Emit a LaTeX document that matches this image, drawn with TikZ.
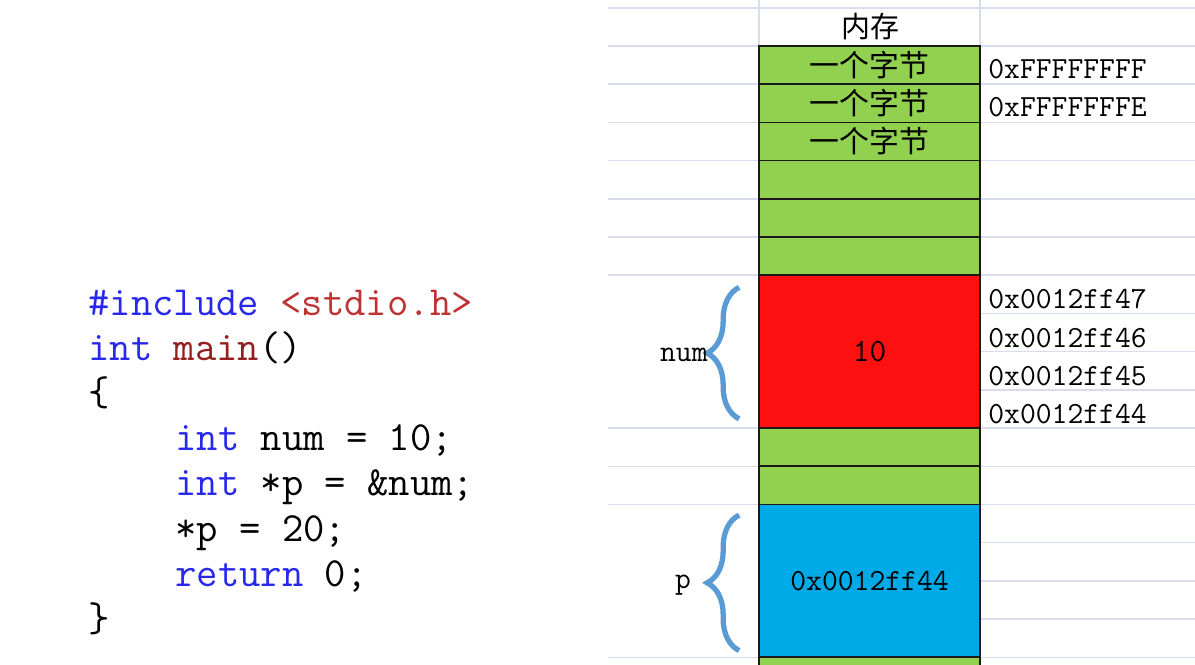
\documentclass[tikz,border=0pt]{standalone}
\usepackage{fontspec}
\newfontfamily\cjk{Noto Sans CJK SC}
\usetikzlibrary{decorations.pathreplacing}
\definecolor{kwblue}{RGB}{40,40,235}
\definecolor{fnred}{RGB}{150,30,30}
\definecolor{incred}{RGB}{190,50,50}
\definecolor{gridc}{RGB}{215,221,236}
\definecolor{cellgreen}{RGB}{146,208,80}
\definecolor{cellred}{RGB}{255,16,16}
\definecolor{cellblue}{RGB}{0,170,230}
\definecolor{bracec}{RGB}{91,155,213}
\begin{document}
\begin{tikzpicture}[x=.02cm,y=-.02cm,
  code/.style={anchor=base west,inner sep=0pt,font=\ttfamily\fontsize{23.6}{26}\selectfont},
  mem/.style={inner sep=0pt,font=\ttfamily\fontsize{17.5}{20}\selectfont},
  cell/.style={draw=black!90,line width=1pt,fill=cellgreen,minimum width=4.42cm,minimum height=.764cm,inner sep=0pt,font=\cjk\fontsize{17}{20}\selectfont},
  gridline/.style={gridc,line width=.8pt},
  brace/.style={decorate,decoration={brace,amplitude=.64cm},bracec,line width=3pt}]
\clip (0,0) rectangle (1195,665);
% sheet grid
\foreach \y in {8,46,84.2,122.4,160.6,198.8,237,275.2,313.4,351.6,389.8,428,466.2,504.4,542.6,580.8,619,657.2}{\draw[gridline] (980,\y)--(1195,\y);}
\foreach \y in {8,46,84.2,122.4,160.6,198.8,237,275.2,428,466.2,504.4,657.2}{\draw[gridline] (608,\y)--(759,\y);}
\draw[gridline] (759,8)--(980,8);\draw[gridline] (759,0)--(759,46);\draw[gridline] (980,0)--(980,46);
% memory column
\node[font=\cjk\fontsize{16.5}{20}\selectfont] (hdr) at (870,27) {内存};
\foreach \i/\t in {1/一个字节,2/一个字节,3/一个字节,4/,5/,6/}{\node[cell] (b\i) at (869.5,{46+38.2*(\i-.5)}) {\t};}
\node[cell,fill=cellred,minimum height=3.056cm,font=\ttfamily\fontsize{18.5}{20}\selectfont] (num) at (869.5,351.6) {10};
\node[cell] (b7) at (869.5,447.1) {};\node[cell] (b8) at (869.5,485.3) {};
\node[cell,fill=cellblue,minimum height=3.056cm,font=\ttfamily\fontsize{17.5}{20}\selectfont] (p) at (869.5,580.8) {0x0012ff44};
\node[cell] (b9) at (869.5,676.1) {};
\foreach \y/\a [count=\k] in {69/0xFFFFFFFF,107/0xFFFFFFFE,299/0x0012ff47,338/0x0012ff46,376/0x0012ff45,414/0x0012ff44}{\node[mem,anchor=west] (addr\k) at (988,\y) {\a};}
% braces
\draw[brace] ([xshift=-.38cm,yshift=.2cm]num.south west)--([xshift=-.38cm,yshift=-.26cm]num.north west);
\draw[brace] ([xshift=-.38cm,yshift=.15cm]p.south west)--([xshift=-.38cm,yshift=-.23cm]p.north west);
\node[mem,anchor=east] (numlbl) at (708,355) {num};\node[mem] (plbl) at (683,585) {p};
% code
\node[code] (l1) at (88,315) {\color{kwblue}\#include \color{incred}<stdio.h>};
\node[code] (l2) at (88,360.2) {\color{kwblue}int \color{fnred}main\color{black}()};
\node[code] (l3) at (88,405.4) {\{};
\node[code] (l4) at (175,450.6) {\color{kwblue}int \color{black}num = 10;};
\node[code] (l5) at (175,495.8) {\color{kwblue}int \color{black}*p = \&num;};
\node[code] (l6) at (175,541) {*p = 20;};
\node[code] (l7) at (175,586.2) {\color{kwblue}return \color{black}0;};
\node[code] (l8) at (88,631.4) {\}};
\end{tikzpicture}
\end{document}
